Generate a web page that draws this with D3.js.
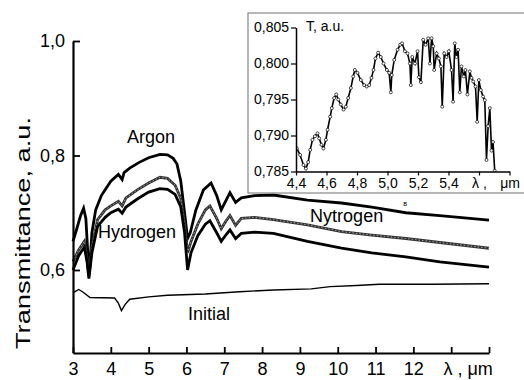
<!DOCTYPE html>
<html>
<head>
<meta charset="utf-8">
<script src="https://cdn.jsdelivr.net/npm/d3@7"></script>
<style>
  body { margin: 0; background: #fff; }
  text { font-family: "Liberation Sans", Arial, sans-serif; fill: #000; }
</style>
</head>
<body>
<div id="chart"></div>
<script>
// main plot: wavelength (um) vs transmittance
const mainXTicks = [3, 4, 5, 6, 7, 8, 9, 10, 11, 12, 13, 14];
const mainXTickLabels = ['3', '4', '5', '6', '7', '8', '9', '10', '11', '12', '', ''];
const mainYTicks = [0.6, 0.8, 1.0];
const mainYTickLabels = ['0,6', '0,8', '1,0'];

const argon = [
  [3.0, 0.650], [3.1, 0.672], [3.2, 0.695], [3.28, 0.708], [3.34, 0.690], [3.4, 0.620],
  [3.44, 0.600], [3.5, 0.665], [3.6, 0.705], [3.75, 0.730], [4.0, 0.755], [4.2, 0.767],
  [4.3, 0.758], [4.35, 0.770], [4.5, 0.778], [4.75, 0.788], [5.0, 0.796], [5.3, 0.802],
  [5.5, 0.801], [5.65, 0.795], [5.75, 0.785], [5.85, 0.755], [5.95, 0.700], [6.03, 0.655],
  [6.1, 0.665], [6.25, 0.705], [6.45, 0.740], [6.65, 0.752], [6.8, 0.730], [6.92, 0.705],
  [7.05, 0.722], [7.15, 0.735], [7.3, 0.718], [7.45, 0.726], [7.8, 0.730], [8.3, 0.731],
  [9.2, 0.722], [10.1, 0.717], [10.9, 0.710], [11.8, 0.700], [12.7, 0.695], [14.0, 0.687],
];
const nitrogen = [
  [3.0, 0.615], [3.15, 0.635], [3.3, 0.650], [3.37, 0.620], [3.42, 0.590], [3.5, 0.640],
  [3.65, 0.688], [3.85, 0.705], [4.0, 0.712], [4.2, 0.720], [4.3, 0.712], [4.4, 0.726],
  [4.7, 0.740], [5.0, 0.752], [5.3, 0.762], [5.5, 0.760], [5.7, 0.748], [5.85, 0.725],
  [5.95, 0.680], [6.03, 0.630], [6.12, 0.650], [6.3, 0.680], [6.5, 0.705], [6.62, 0.712],
  [6.8, 0.690], [6.92, 0.672], [7.05, 0.686], [7.15, 0.695], [7.3, 0.678], [7.45, 0.690],
  [7.8, 0.692], [8.3, 0.688], [9.2, 0.679], [10.1, 0.667], [10.9, 0.661], [11.8, 0.655],
  [12.7, 0.648], [14.0, 0.638],
];
const hydrogen = [
  [3.0, 0.600], [3.15, 0.625], [3.3, 0.640], [3.37, 0.615], [3.42, 0.585], [3.5, 0.630],
  [3.65, 0.676], [3.85, 0.692], [4.0, 0.700], [4.2, 0.706], [4.3, 0.699], [4.4, 0.710],
  [4.7, 0.724], [5.0, 0.736], [5.3, 0.742], [5.5, 0.741], [5.7, 0.732], [5.85, 0.710],
  [5.95, 0.665], [6.03, 0.600], [6.12, 0.630], [6.3, 0.660], [6.5, 0.680], [6.62, 0.686],
  [6.8, 0.665], [6.92, 0.650], [7.05, 0.662], [7.15, 0.670], [7.3, 0.655], [7.45, 0.664],
  [7.8, 0.666], [8.3, 0.664], [9.2, 0.650], [10.1, 0.638], [10.9, 0.630], [11.8, 0.623],
  [12.7, 0.614], [14.0, 0.605],
];
const initial = [
  [3.0, 0.560], [3.15, 0.566], [3.25, 0.562], [3.45, 0.552], [4.1, 0.551], [4.2, 0.542],
  [4.28, 0.529], [4.38, 0.540], [4.5, 0.549], [5.0, 0.553], [5.5, 0.556], [6.5, 0.558],
  [7.4, 0.562], [8.3, 0.565], [9.3, 0.567], [9.8, 0.571], [10.5, 0.573], [11.1, 0.575],
  [12.5, 0.575], [14.0, 0.576],
];

// curve labels, placed in data units
const curveLabels = [
  { text: 'Argon', x: 5.06, y: 0.822, anchor: 'middle' },
  { text: 'Hydrogen', x: 3.66, y: 0.656, anchor: 'start' },
  { text: 'Nytrogen', x: 9.27, y: 0.684, anchor: 'start' },
  { text: 'Initial', x: 6.04, y: 0.513, anchor: 'start' },
];

// inset: zoom on the argon maximum
const insetXTicks = [4.4, 4.6, 4.8, 5.0, 5.2, 5.4, 5.6, 5.8];
const insetXTickLabels = ['4,4', '4,6', '4,8', '5,0', '5,2', '5,4', 'λ ,', 'μm'];
const insetYTicks = [0.785, 0.790, 0.795, 0.800, 0.805];
const insetYTickLabels = ['0,785', '0,790', '0,795', '0,800', '0,805'];

const insetLambda = [
  4.406, 4.427, 4.449, 4.465, 4.48, 4.493, 4.508, 4.524, 4.541, 4.552, 4.567, 4.58, 4.596,
  4.607, 4.624, 4.635, 4.65, 4.664, 4.677, 4.694, 4.712, 4.727, 4.742, 4.76, 4.775, 4.786,
  4.803, 4.825, 4.847, 4.864, 4.88, 4.895, 4.908, 4.921, 4.939, 4.956, 4.974, 4.996, 5.011,
  5.022, 5.028, 5.044, 5.066, 5.083, 5.096, 5.114, 5.131, 5.147, 5.153, 5.162, 5.18, 5.197,
  5.206, 5.219, 5.234, 5.25, 5.267, 5.278, 5.289, 5.3, 5.306, 5.322, 5.337, 5.35, 5.359,
  5.372, 5.387, 5.402, 5.42, 5.43, 5.441, 5.452, 5.463, 5.474, 5.485, 5.5, 5.511, 5.524,
  5.54, 5.551, 5.562, 5.577, 5.588, 5.599, 5.612, 5.627, 5.638, 5.649, 5.66, 5.671, 5.682,
  5.692, 5.703, 5.714,
];
const insetT = [
  0.7882, 0.7873, 0.7859, 0.7854, 0.7863, 0.7880, 0.7894, 0.7899, 0.7903, 0.7896, 0.7887, 0.7882, 0.7894,
  0.7908, 0.7926, 0.7938, 0.7952, 0.7957, 0.7950, 0.7943, 0.7936, 0.7940, 0.7952, 0.7966, 0.7982, 0.7991,
  0.7987, 0.7977, 0.7970, 0.7968, 0.7970, 0.7980, 0.7991, 0.8007, 0.8015, 0.8009, 0.8000, 0.7991, 0.7987,
  0.7960, 0.7984, 0.8005, 0.8019, 0.8026, 0.8028, 0.8017, 0.8014, 0.8000, 0.7970, 0.8009, 0.8000, 0.8017,
  0.7981, 0.7974, 0.8033, 0.8026, 0.8035, 0.8000, 0.8035, 0.8024, 0.7991, 0.8014, 0.8007, 0.7996, 0.7940,
  0.8014, 0.8009, 0.8017, 0.7991, 0.7947, 0.8028, 0.8009, 0.8019, 0.7960, 0.7996, 0.7982, 0.7991, 0.7957,
  0.7989, 0.7980, 0.7975, 0.7968, 0.7919, 0.7977, 0.7963, 0.7954, 0.7949, 0.7866, 0.7913, 0.7938, 0.7879,
  0.7891, 0.7851, 0.7842,
];

const width = 524;
const height = 380;

const svg = d3
  .select('#chart')
  .append('svg')
  .attr('width', width)
  .attr('height', height);

const x = d3.scaleLinear().domain([3, 14]).range([73, 489]);
const y = d3.scaleLinear().domain([0.455, 1.0]).range([353, 41]);

const line = d3
  .line()
  .x(d => x(d[0]))
  .y(d => y(d[1]));

// main curves
svg.append('path').datum(argon)
  .attr('d', line).attr('fill', 'none').attr('stroke', '#000').attr('stroke-width', 2.8);
svg.append('path').datum(nitrogen)
  .attr('d', line).attr('fill', 'none').attr('stroke', '#333').attr('stroke-width', 2.8);
svg.append('path').datum(nitrogen)
  .attr('d', line).attr('fill', 'none').attr('stroke', '#bbb').attr('stroke-width', 0.8)
  .attr('stroke-dasharray', '1.5,2');
svg.append('path').datum(hydrogen)
  .attr('d', line).attr('fill', 'none').attr('stroke', '#000').attr('stroke-width', 2.8);
svg.append('path').datum(initial)
  .attr('d', line).attr('fill', 'none').attr('stroke', '#000').attr('stroke-width', 1.4);

// axes
const xAxis = d3.axisBottom(x)
  .tickValues(mainXTicks)
  .tickSizeInner(-6)
  .tickSizeOuter(0)
  .tickPadding(9)
  .tickFormat((d, i) => mainXTickLabels[i]);

const yAxis = d3.axisLeft(y)
  .tickValues(mainYTicks)
  .tickSizeInner(-7)
  .tickSizeOuter(0)
  .tickPadding(8)
  .tickFormat((d, i) => mainYTickLabels[i]);

const gx = svg.append('g').attr('transform', `translate(0, ${y(0.455)})`).call(xAxis);
const gy = svg.append('g').attr('transform', `translate(${x(3)}, 0)`).call(yAxis);

[gx, gy].forEach(g => {
  g.select('.domain').attr('stroke-width', 2.2);
  g.selectAll('.tick line').attr('stroke-width', 1.8);
  g.selectAll('.tick text').attr('font-size', 18).attr('font-family', '"Liberation Sans", Arial, sans-serif');
});

svg.append('text')
  .attr('x', x(13.45))
  .attr('y', 375)
  .attr('text-anchor', 'middle')
  .attr('font-size', 18)
  .text('λ , μm');

svg.append('text')
  .attr('transform', 'translate(30, 233) rotate(-90)')
  .attr('text-anchor', 'middle')
  .attr('font-size', 20)
  .attr('textLength', 232)
  .attr('lengthAdjust', 'spacingAndGlyphs')
  .text('Transmittance, a.u.');

svg.selectAll('.curve-label')
  .data(curveLabels)
  .enter()
  .append('text')
  .attr('class', 'curve-label')
  .attr('x', d => x(d.x))
  .attr('y', d => y(d.y))
  .attr('text-anchor', d => d.anchor)
  .attr('font-size', 18)
  .text(d => d.text);

svg.append('text')
  .attr('x', x(11.73))
  .attr('y', y(0.712))
  .attr('font-size', 7)
  .text('в');

// inset
const inset = svg.append('g');

inset.append('rect')
  .attr('x', 248)
  .attr('y', 13)
  .attr('width', 300)
  .attr('height', 180)
  .attr('fill', '#fff')
  .attr('stroke', '#888')
  .attr('stroke-width', 1.2);

const ix = d3.scaleLinear().domain([4.4, 5.8]).range([296, 509.5]);
const iy = d3.scaleLinear().domain([0.785, 0.805]).range([171.5, 27.5]);

inset.append('clipPath')
  .attr('id', 'inset-clip')
  .append('rect')
  .attr('x', ix(4.4))
  .attr('y', iy(0.8055))
  .attr('width', ix(5.8) - ix(4.4))
  .attr('height', iy(0.785) - iy(0.8055));

const insetData = insetLambda.map((l, i) => [l, insetT[i]]);

const plot = inset.append('g').attr('clip-path', 'url(#inset-clip)');

plot.append('path')
  .datum(insetData)
  .attr('d', d3.line().x(d => ix(d[0])).y(d => iy(d[1])))
  .attr('fill', 'none')
  .attr('stroke', '#000')
  .attr('stroke-width', 1.6);

plot.selectAll('circle')
  .data(insetData)
  .enter()
  .append('circle')
  .attr('cx', d => ix(d[0]))
  .attr('cy', d => iy(d[1]))
  .attr('r', 1.5)
  .attr('fill', '#fff')
  .attr('stroke', '#000')
  .attr('stroke-width', 0.7);

const ixAxis = d3.axisBottom(ix)
  .tickValues(insetXTicks)
  .tickSizeInner(4)
  .tickSizeOuter(0)
  .tickPadding(3)
  .tickFormat((d, i) => insetXTickLabels[i]);

const iyAxis = d3.axisLeft(iy)
  .tickValues(insetYTicks)
  .tickSizeInner(5)
  .tickSizeOuter(0)
  .tickPadding(2)
  .tickFormat((d, i) => insetYTickLabels[i]);

const gix = inset.append('g').attr('transform', `translate(0, ${iy(0.785)})`).call(ixAxis);
const giy = inset.append('g').attr('transform', `translate(${ix(4.4)}, 0)`).call(iyAxis);

[gix, giy].forEach(g => {
  g.select('.domain').attr('stroke-width', 1.5);
  g.selectAll('.tick line').attr('stroke-width', 1.2);
  g.selectAll('.tick text').attr('font-size', 14).attr('font-family', '"Liberation Sans", Arial, sans-serif');
});

inset.append('text')
  .attr('x', 306)
  .attr('y', 31)
  .attr('font-size', 14)
  .text('T, a.u.');
</script>
</body>
</html>
